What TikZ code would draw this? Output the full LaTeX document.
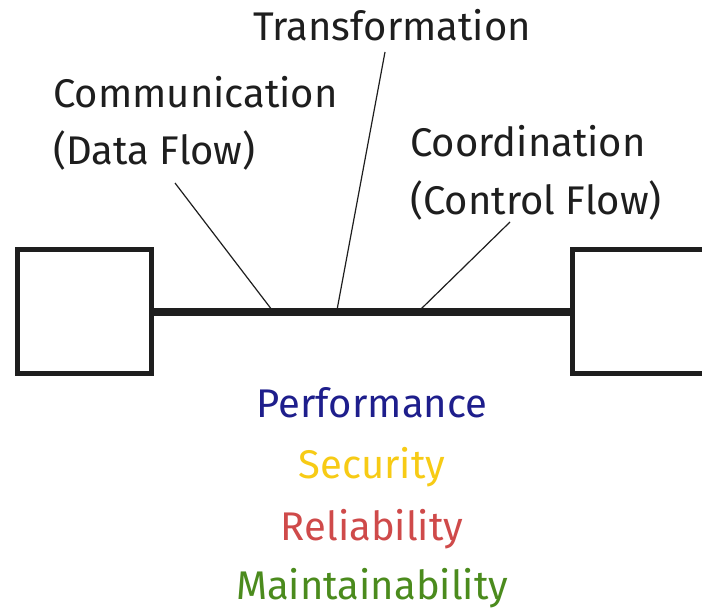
\documentclass[tikz,border=0pt]{standalone}
\usepackage{fontspec}
\setmainfont{Fira Sans}
\definecolor{perfc}{HTML}{1E1E8C}
\definecolor{secc}{HTML}{F7CB15}
\definecolor{relc}{HTML}{CF4A4A}
\definecolor{mainc}{HTML}{4B8B1D}
\definecolor{ink}{HTML}{1E1E1E}
\tikzset{
  compbox/.style={draw=ink, line width=5pt, minimum width=134pt, minimum height=124pt, inner sep=0pt},
  toplabel/.style={font=\fontsize{40}{47}\selectfont, text=ink, inner sep=0pt, align=left},
  quality/.style={font=\fontsize{40}{48}\selectfont, inner sep=0pt},
  leader/.style={draw=ink, line width=1.2pt},
  bar/.style={draw=ink, line width=8pt}
}
\begin{document}
\begin{tikzpicture}[x=1pt,y=-1pt]
\useasboundingbox (0,0) rectangle (702,610);
\fill[white] (0,0) rectangle (702,610);
\node[compbox] (left) at (84.5,311.5) {};
\node[compbox] (right) at (639,311.5) {};
\draw[bar] (left.east) -- (right.west);
\node[toplabel, anchor=base west] (trans) at (253,41) {Transformation};
\node[toplabel, anchor=base west] (comm) at (53,107) {Communication};
\node[toplabel, anchor=base west] (data) at (53,164) {(Data Flow)};
\node[toplabel, anchor=base west] (coord) at (410,157) {Coordination};
\node[toplabel, anchor=base west] (ctrl) at (410,214) {(Control Flow)};
\coordinate (tcA) at (175,183);
\coordinate (tcB) at (272,310);
\coordinate (ttA) at (385,52);
\coordinate (ttB) at (337,310);
\coordinate (toA) at (510,222);
\coordinate (toB) at (420,310);
\draw[leader] (tcA) -- (tcB);
\draw[leader] (ttA) -- (ttB);
\draw[leader] (toA) -- (toB);
\node[quality, text=perfc, anchor=base] (perf) at (372,417) {Performance};
\node[quality, text=secc, anchor=base] (sec) at (372,478) {Security};
\node[quality, text=relc, anchor=base] (rel) at (372,540) {Reliability};
\node[quality, text=mainc, anchor=base] (main) at (372,599) {Maintainability};
\end{tikzpicture}
\end{document}
